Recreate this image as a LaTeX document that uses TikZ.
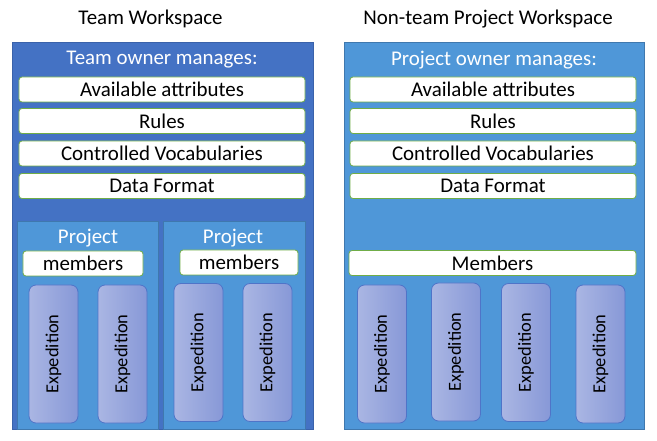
\documentclass[tikz,border=0pt]{standalone}
\usepackage{fontspec}
\setmainfont{Carlito}
\definecolor{darkws}{HTML}{4472C4}
\definecolor{darkwsb}{HTML}{3A62AA}
\definecolor{lightws}{HTML}{4F97D8}
\definecolor{lightwsb}{HTML}{3F78AE}
\definecolor{greenb}{HTML}{70AD47}
\definecolor{expl}{HTML}{AAB6E3}
\definecolor{expr}{HTML}{8798D7}
\definecolor{expb}{HTML}{4F74C8}
\begin{document}
\begin{tikzpicture}[x=1bp,y=-1bp,
  wbox/.style={draw=greenb, line width=0.8bp, fill=white, rounded corners=3bp, minimum height=25bp, inner sep=0pt, font=\fontsize{21}{23}\selectfont},
  exbox/.style={draw=expb, line width=0.8bp, left color=expl, right color=expr, rounded corners=7bp, minimum width=49bp, minimum height=138bp, inner sep=0pt},
  extext/.style={rotate=90, font=\fontsize{18.5}{20}\selectfont},
  hdr/.style={text=white, font=\fontsize{21}{23}\selectfont},
  ttl/.style={font=\fontsize{21}{23}\selectfont}
]
\useasboundingbox (0,0) rectangle (657,441);
% titles
\node[ttl] (t1) at (150.5,19) {Team Workspace};
\node[ttl] (t2) at (488,19) {Non-team Project Workspace};
% outer boxes
\path[draw=darkwsb, fill=darkws, line width=0.8bp] (12,42) rectangle (313,429);
\path[draw=lightwsb, fill=lightws, line width=0.8bp] (344,42) rectangle (644,429);
\node[hdr] (h1) at (162,60) {Team owner manages:};
\node[hdr] (h2) at (494,60) {Project owner manages:};
% left white boxes
\node[wbox, minimum width=286bp] (la) at (162,89.5) {Available attributes};
\node[wbox, minimum width=286bp] (lr) at (162,121) {Rules};
\node[wbox, minimum width=286bp] (lc) at (162,153.5) {Controlled Vocabularies};
\node[wbox, minimum width=286bp] (ld) at (162,186) {Data Format};
% right white boxes
\node[wbox, minimum width=286bp] (ra) at (493,89.5) {Available attributes};
\node[wbox, minimum width=286bp] (rr) at (493,121) {Rules};
\node[wbox, minimum width=286bp] (rc) at (493,153.5) {Controlled Vocabularies};
\node[wbox, minimum width=286bp] (rd) at (493,186) {Data Format};
% project sub boxes
\path[draw=lightwsb, fill=lightws, line width=0.8bp] (17,221) rectangle (158,429);
\path[draw=lightwsb, fill=lightws, line width=0.8bp] (163,221) rectangle (305,429);
\node[hdr] (p1) at (88,238) {Project};
\node[hdr] (p2) at (233,238) {Project};
\node[wbox, minimum width=120bp] (m1) at (83,263.5) {members};
\node[wbox, minimum width=118bp] (m2) at (239,262.5) {members};
\node[wbox, minimum width=287bp] (m3) at (492.5,263) {Members};
% expeditions left
\node[exbox] (e1) at (53.5,354) {};
\node[extext] at (e1) {Expedition};
\node[exbox] (e2) at (122.5,354) {};
\node[extext] at (e2) {Expedition};
\node[exbox] (e3) at (198.5,352.5) {};
\node[extext] at (e3) {Expedition};
\node[exbox] (e4) at (267.5,352.5) {};
\node[extext] at (e4) {Expedition};
% expeditions right
\node[exbox] (e5) at (382,354) {};
\node[extext] at (e5) {Expedition};
\node[exbox] (e6) at (456,352) {};
\node[extext] at (e6) {Expedition};
\node[exbox] (e7) at (526,352.5) {};
\node[extext] at (e7) {Expedition};
\node[exbox] (e8) at (600.5,354) {};
\node[extext] at (e8) {Expedition};
\end{tikzpicture}
\end{document}
